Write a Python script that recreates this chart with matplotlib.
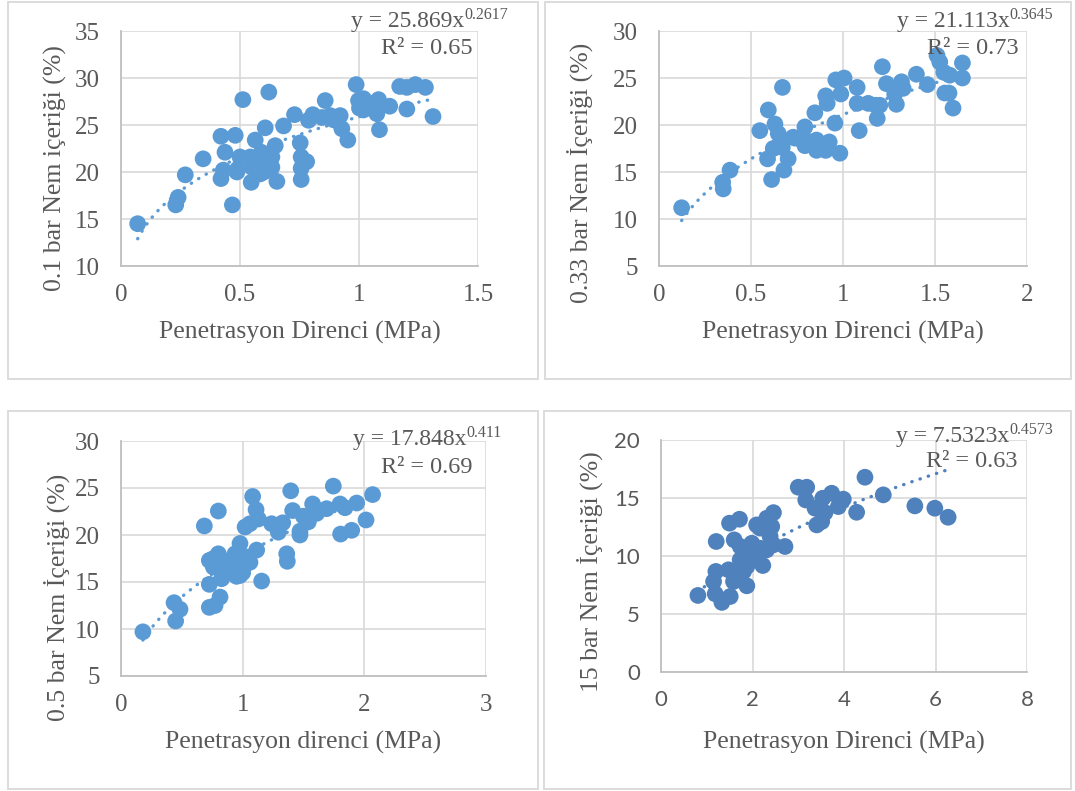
import numpy as np
import matplotlib
matplotlib.use("Agg")
import matplotlib.pyplot as plt
from matplotlib.patches import Rectangle
from matplotlib.transforms import ScaledTranslation

plt.rcParams['font.family'] = ['Liberation Serif', 'DejaVu Serif']

# --- 0.1 bar ---
pr_01 = [0.07, 0.24, 0.23, 0.27, 0.345, 0.42, 0.48, 0.437, 0.42, 0.43, 0.487, 0.49,
         0.50, 0.512, 0.468, 0.547, 0.564, 0.543, 0.55, 0.585, 0.606, 0.621, 0.59,
         0.613, 0.634, 0.634, 0.648, 0.655, 0.683, 0.729, 0.753, 0.757, 0.78, 0.757,
         0.757, 0.788, 0.806, 0.858, 0.844, 0.879, 0.90, 0.921, 0.928, 0.953, 0.988,
         0.998, 1.019, 1.002, 1.019, 1.047, 1.082, 1.075, 1.086, 1.129, 1.171, 1.201,
         1.201, 1.237, 1.279, 1.311, 0.58, 0.60, 0.62, 0.57, 0.89]
nem_01 = [14.5, 17.3, 16.5, 19.7, 21.4, 23.8, 23.9, 22.1, 19.3, 20.2, 20.0, 20.3,
          21.6, 27.7, 16.5, 18.9, 23.4, 21.6, 20.5, 19.8, 24.7, 28.5, 22.1,
          21.2, 21.6, 20.5, 22.8, 19.0, 24.9, 26.1, 23.1, 21.6, 21.1, 20.4,
          19.2, 25.5, 26.1, 27.6, 25.8, 26.0, 25.5, 26.0, 24.6, 23.4, 29.3,
          27.6, 27.8, 26.8, 26.6, 27.3, 27.7, 26.2, 24.5, 27.0, 29.1, 29.0,
          26.7, 29.3, 29.0, 25.9, 20.8, 20.0, 21.8, 21.0, 25.6]

# --- 0.33 bar ---
pr_033 = [0.123, 0.346, 0.349, 0.386, 0.612, 0.548, 0.594, 0.59, 0.63, 0.648, 0.621,
          0.657, 0.671, 0.679, 0.702, 0.729, 0.793, 0.784, 0.793, 0.847, 0.856, 0.856,
          0.906, 0.914, 0.925, 0.906, 0.956, 0.961, 1.006, 0.988, 0.983, 1.077, 1.077,
          1.088, 1.137, 1.178, 1.20, 1.186, 1.214, 1.236, 1.281, 1.29, 1.318, 1.327,
          1.399, 1.459, 1.511, 1.526, 1.548, 1.58, 1.553, 1.576, 1.598, 1.649, 1.649,
          0.81, 0.88, 0.74, 0.67]
nem_033 = [11.2, 13.9, 13.2, 15.2, 14.2, 19.4, 21.6, 16.4, 20.1, 19.1, 17.5,
           18.0, 24.0, 15.2, 16.4, 18.7, 19.8, 18.7, 17.8, 21.3, 18.4, 17.3,
           23.1, 22.3, 18.2, 17.3, 20.2, 24.8, 25.0, 23.3, 17.0, 24.0, 22.3,
           19.4, 22.3, 22.1, 22.1, 20.7, 26.2, 24.4, 23.3, 22.2, 24.6, 23.9,
           25.4, 24.3, 27.4, 26.7, 25.6, 25.3, 23.4, 23.4, 21.8, 26.6, 25.0,
           18.0, 17.8, 18.6, 17.6]

# --- 0.5 bar ---
pr_05 = [0.18, 0.436, 0.485, 0.449, 0.685, 0.726, 0.726, 0.726, 0.773, 0.80, 0.80,
         0.814, 0.759, 0.827, 0.896, 0.937, 0.978, 0.923, 0.978, 1.005, 1.033, 1.06,
         1.02, 1.06, 1.082, 1.11, 1.129, 1.115, 1.156, 1.238, 1.293, 1.329, 1.362,
         1.367, 1.395, 1.411, 1.471, 1.471, 1.499, 1.54, 1.575, 1.608, 1.69, 1.745,
         1.80, 1.841, 1.805, 1.896, 1.937, 2.014, 2.068,
         0.87, 0.95, 0.98, 1.00, 0.82, 0.76, 0.90]
nem_05 = [9.7, 12.8, 12.1, 10.85, 20.96, 17.3, 14.75, 12.3, 12.5, 22.55, 18.0,
          13.4, 16.6, 15.35, 16.6, 18.0, 19.1, 15.9, 15.7, 16.6, 17.66, 17.1,
          20.85, 21.2, 24.1, 22.7, 21.7, 18.4, 15.1, 21.2, 20.3, 21.3, 18.0,
          17.2, 24.7, 22.6, 20.0, 20.4, 22.0, 21.4, 23.3, 22.3, 22.8, 25.2,
          23.3, 22.9, 20.1, 20.5, 23.4, 21.6, 24.3,
          16.2, 15.6, 16.9, 16.0, 16.9, 17.5, 17.3]

# --- 15 bar ---
pr_15 = [0.807, 1.207, 1.20, 1.149, 1.185, 1.331, 1.513, 1.498, 1.716, 1.60, 1.476,
         1.585, 1.731, 1.876, 1.804, 1.913, 2.02, 2.09, 2.167, 2.225, 2.313, 2.458,
         2.42, 2.385, 2.167, 2.31, 2.458, 2.71, 1.73, 1.876, 1.73, 1.985, 2.09,
         3.0, 3.185, 3.164, 3.367, 3.404, 3.513, 3.535, 3.585, 3.731, 3.876, 3.985,
         4.276, 4.458, 4.858, 5.549, 5.985, 6.276]
nem_15 = [6.6, 11.25, 8.67, 7.8, 6.74, 6.0, 6.51, 12.83, 13.17, 11.39, 8.81,
          7.8, 10.82, 7.43, 8.67, 10.53, 9.81, 12.68, 12.4, 9.18, 13.26, 13.74,
          12.54, 11.68, 10.67, 10.53, 10.96, 10.82, 9.67, 9.1, 8.38, 11.1, 10.24,
          15.93, 15.93, 14.83, 14.12, 12.68, 12.97, 14.98, 13.74, 15.41, 14.26, 14.9,
          13.77, 16.79, 15.27, 14.32, 14.12, 13.34]

# power trendline coefficients (y = a * x^b) and R^2
fit_01 = (25.869, 0.2617, '0.2617', '0.65')
fit_033 = (21.113, 0.3645, '0.3645', '0.73')
fit_05 = (17.848, 0.411, '0.411', '0.69')
fit_15 = (7.5323, 0.4573, '0.4573', '0.63')

GRID = '#D9D9D9'
TEXT = '#595959'

fig = plt.figure(figsize=(10.75, 7.91), dpi=100)
renderer = fig.canvas.get_renderer()

# panel frames (pixels: x0, y0_top, x1, y1_bottom)
frames = [(8, 2, 538, 379), (545, 2, 1071, 379), (8, 411, 538, 789), (544, 411, 1071, 789)]
for x0, y0, x1, y1 in frames:
    fig.patches.append(Rectangle((x0 / 1075, 1 - y1 / 791), (x1 - x0) / 1075, (y1 - y0) / 791,
                                 transform=fig.transFigure, fill=False,
                                 edgecolor=GRID, linewidth=1.3))


def panel(rect, x, y, fit, xlim, xstep, ylim, ystep, ylabel, xlabel, color,
          ylab_pos, xlab_y, eq_pos, tick_font=None):
    ax = fig.add_axes(rect)
    ax.scatter(x, y, s=145, color=color, edgecolors='none', zorder=3)

    a, b, bstr, r2 = fit
    xs = np.linspace(min(x), max(x), 200)
    ax.plot(xs, a * xs ** b, color=color, lw=2.4, linestyle=(0, (0.1, 2.5)),
            dash_capstyle='round', zorder=4)

    ax.set_xlim(*xlim)
    ax.set_ylim(*ylim)
    ax.set_xticks(np.arange(xlim[0], xlim[1] + xstep / 2, xstep))
    ax.set_yticks(np.arange(ylim[0], ylim[1] + ystep / 2, ystep))
    ax.set_xticklabels(['%g' % v for v in ax.get_xticks()])
    ax.set_yticklabels(['%g' % v for v in ax.get_yticks()])
    ax.grid(True, color=GRID, lw=1.2, zorder=0)
    ax.set_axisbelow(True)
    for s in ['top', 'right']:
        ax.spines[s].set_visible(False)
    for s in ['left', 'bottom']:
        ax.spines[s].set_color('#BFBFBF')
        ax.spines[s].set_linewidth(1.3)
    ax.tick_params(length=0, colors=TEXT, labelsize=18)
    ax.tick_params(axis='x', pad=13)
    ax.tick_params(axis='y', pad=15)
    if tick_font:
        for t in ax.get_xticklabels() + ax.get_yticklabels():
            t.set_family(tick_font)
            t.set_fontsize(16)

    ax.text(ylab_pos[0], ylab_pos[1], ylabel, transform=ax.transAxes, rotation=90,
            ha='center', va='center', fontsize=18.5, color=TEXT)
    ax.text(0.5, xlab_y, xlabel, transform=ax.transAxes, ha='center', va='center',
            fontsize=18.5, color=TEXT)

    # trendline equation: exponent as a small raised text, base text to its left
    sup = ax.text(eq_pos[0], eq_pos[1], bstr, ha='right', va='baseline', fontsize=11.5,
                  color=TEXT, zorder=5,
                  transform=ax.transAxes + ScaledTranslation(0, 6 / 72, fig.dpi_scale_trans))
    w = sup.get_window_extent(renderer).width / fig.dpi
    ax.text(eq_pos[0], eq_pos[1], 'y = %gx' % a, ha='right', va='baseline', fontsize=17,
            color=TEXT, zorder=5,
            transform=ax.transAxes + ScaledTranslation(-w, 0, fig.dpi_scale_trans))
    ax.text(eq_pos[2], eq_pos[3], 'R² = %s' % r2, transform=ax.transAxes,
            ha='right', va='baseline', fontsize=17.5, color=TEXT, zorder=5)
    return ax


panel([121 / 1075, 1 - 266 / 791, 357 / 1075, 235 / 791], pr_01, nem_01, fit_01,
      (0, 1.5), 0.5, (10, 35), 5, '0.1 bar Nem içeriği (%)', 'Penetrasyon Direnci (MPa)',
      '#5B9BD5', (-0.185, 0.415), -0.281, (1.084, 1.017, 0.986, 0.902))

panel([659 / 1075, 1 - 266 / 791, 368 / 1075, 235 / 791], pr_033, nem_033, fit_033,
      (0, 2), 0.5, (5, 30), 5, '0.33 bar Nem İçeriği (%)', 'Penetrasyon Direnci (MPa)',
      '#5B9BD5', (-0.215, 0.396), -0.281, (1.071, 1.017, 0.976, 0.902))

panel([121 / 1075, 1 - 676 / 791, 365 / 1075, 235 / 791], pr_05, nem_05, fit_05,
      (0, 3), 1, (5, 30), 5, '0.5 bar Nem İçeriği (%)', 'Penetrasyon direnci (MPa)',
      '#5B9BD5', (-0.175, 0.336), -0.281, (1.044, 0.983, 0.964, 0.864))

panel([661 / 1075, 1 - 672 / 791, 366 / 1075, 232 / 791], pr_15, nem_15, fit_15,
      (0, 8), 2, (0, 20), 5, '15 bar Nem İçeriği (%)', 'Penetrasyon Direnci (MPa)',
      '#4F81BD', (-0.194, 0.431), -0.302, (1.071, 0.991, 0.975, 0.884),
      tick_font=['Lato', 'DejaVu Sans'])

fig.savefig('out.png', dpi=100)
